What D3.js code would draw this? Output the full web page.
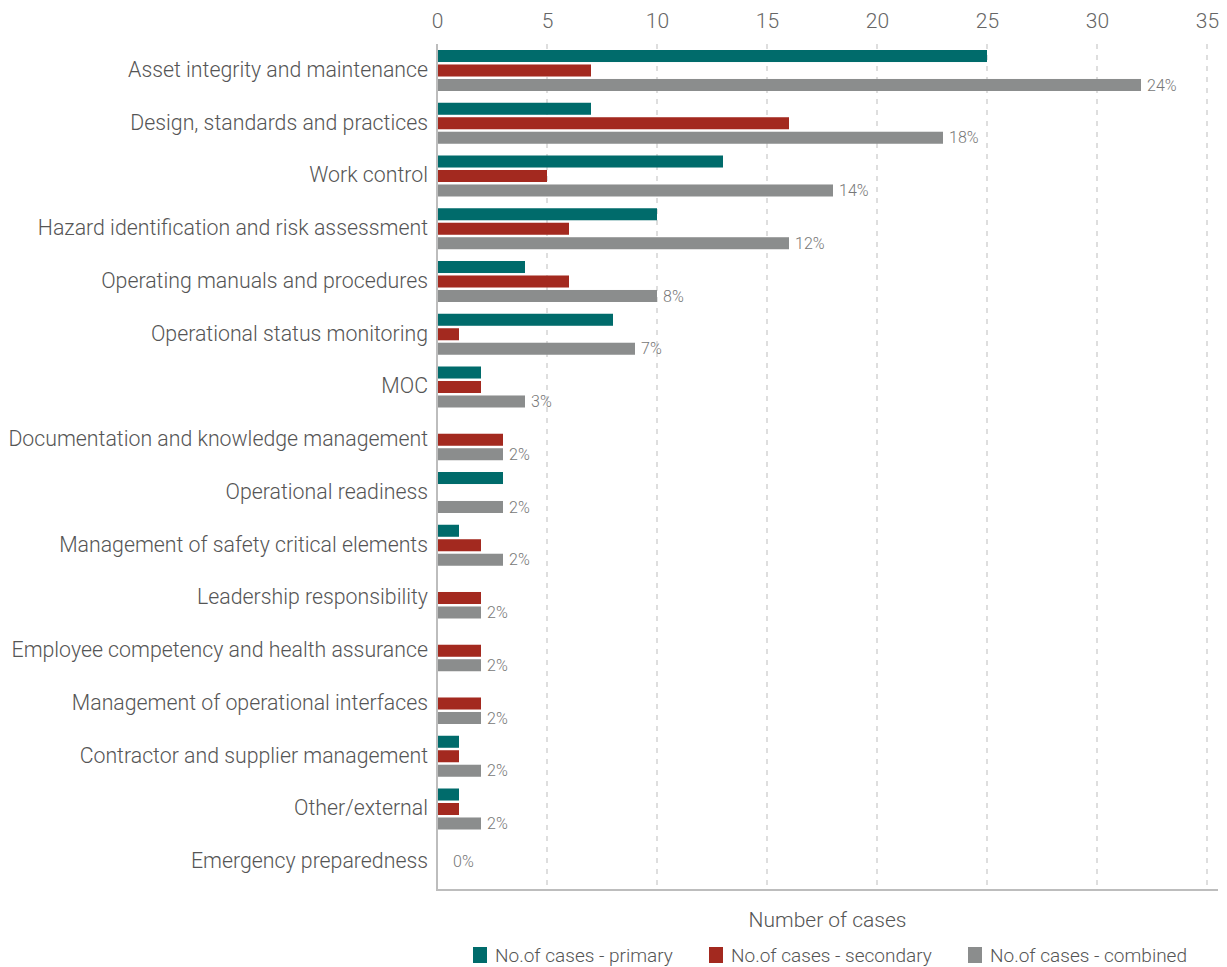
<!DOCTYPE html>
<html>
<head>
<meta charset="utf-8">
<script src="https://cdn.jsdelivr.net/npm/d3@7/dist/d3.min.js"></script>
<style>
  html, body { margin: 0; padding: 0; background: #fff; }
  svg { display: block; font-family: Roboto, "Noto Sans", sans-serif; font-weight: 300; }
</style>
</head>
<body>
<svg id="chart" width="1227" height="967"></svg>
<script>
const categories = [
  "Asset integrity and maintenance",
  "Design, standards and practices",
  "Work control",
  "Hazard identification and risk assessment",
  "Operating manuals and procedures",
  "Operational status monitoring",
  "MOC",
  "Documentation and knowledge management",
  "Operational readiness",
  "Management of safety critical elements",
  "Leadership responsibility",
  "Employee competency and health assurance",
  "Management of operational interfaces",
  "Contractor and supplier management",
  "Other/external",
  "Emergency preparedness"
];
const primary   = [25, 7, 13, 10, 4, 8, 2, 0, 3, 1, 0, 0, 0, 1, 1, 0];
const secondary = [7, 16, 5, 6, 6, 1, 2, 3, 0, 2, 2, 2, 2, 1, 1, 0];
const combined  = [32, 23, 18, 16, 10, 9, 4, 3, 3, 3, 2, 2, 2, 2, 2, 0];
const combinedPct = ["24%", "18%", "14%", "12%", "8%", "7%", "3%", "2%", "2%", "2%", "2%", "2%", "2%", "2%", "2%", "0%"];
const seriesNames = ["No.of cases - primary", "No.of cases - secondary", "No.of cases - combined"];
const seriesColors = ["#006b6b", "#a3291f", "#8b8d8d"];
const xTicks = [0, 5, 10, 15, 20, 25, 30, 35];
const xTitle = "Number of cases";

(function () {
const svg = d3.select("#chart");
const pLeft = 437, pRight = 1218, pTop = 44, pBottom = 888;

const x = d3.scaleLinear().domain([0, 35.5]).range([pLeft, pRight]);
const y0 = d3.scaleBand().domain(categories).range([pTop, pBottom]).padding(0);
const y1 = d3.scaleBand().domain([0, 1, 2]).range([6, 47]).paddingInner(0.17).paddingOuter(0);

// gridlines
svg.append("g").selectAll("line").data(xTicks.filter(t => t > 0)).join("line")
  .attr("x1", d => x(d)).attr("x2", d => x(d))
  .attr("y1", pTop).attr("y2", pBottom)
  .attr("stroke", "#c8c8c8").attr("stroke-width", 1.2)
  .attr("stroke-dasharray", "5,6");

// top axis
const xAxis = d3.axisTop(x).tickValues(xTicks).tickSize(0).tickPadding(0);
const gx = svg.append("g").attr("transform", "translate(0,28)").call(xAxis);
gx.select(".domain").remove();
gx.selectAll("text").attr("font-size", 21).attr("fill", "#666").attr("font-family", "Roboto").attr("font-weight", 300);

// bars
const series = [primary, secondary, combined];
const rows = svg.append("g").selectAll("g").data(categories).join("g")
  .attr("transform", d => `translate(0,${y0(d)})`);
rows.selectAll("rect").data((d, i) => series.map((s, k) => ({k, v: s[i]}))).join("rect")
  .attr("x", x(0))
  .attr("y", d => y1(d.k))
  .attr("width", d => x(d.v) - x(0))
  .attr("height", y1.bandwidth())
  .attr("fill", d => seriesColors[d.k]);

// value labels for combined
rows.append("text")
  .attr("x", (d, i) => combined[i] > 0 ? x(combined[i]) + 6 : x(0) + 16)
  .attr("y", (d, i) => combined[i] > 0 ? y1(2) + y1.bandwidth() / 2 : y0.bandwidth() / 2)
  .attr("dy", "0.35em")
  .attr("font-size", 16).attr("fill", "#777")
  .text((d, i) => combinedPct[i]);

// category labels
svg.append("g").selectAll("text").data(categories).join("text")
  .attr("x", 428)
  .attr("y", d => y0(d) + y0.bandwidth() / 2 - 1)
  .attr("dy", "0.35em")
  .attr("text-anchor", "end")
  .attr("font-size", 21.3).attr("fill", "#555")
  .text(d => d);

// axis lines
svg.append("line").attr("x1", x(0)).attr("x2", x(0)).attr("y1", pTop).attr("y2", pBottom + 2)
  .attr("stroke", "#bdbdbd").attr("stroke-width", 2);
svg.append("line").attr("x1", x(0) - 1).attr("x2", pRight).attr("y1", pBottom + 2).attr("y2", pBottom + 2)
  .attr("stroke", "#bdbdbd").attr("stroke-width", 2);

// x title
svg.append("text").attr("x", (pLeft + pRight) / 2).attr("y", 920).attr("dy", "0.35em")
  .attr("text-anchor", "middle").attr("font-size", 21).attr("fill", "#555").text(xTitle);

// legend
const legendX = [473, 709, 968];
const lg = svg.append("g").selectAll("g").data(seriesNames).join("g")
  .attr("transform", (d, i) => `translate(${legendX[i]},947)`);
lg.append("rect").attr("width", 14).attr("height", 16).attr("fill", (d, i) => seriesColors[i]);
lg.append("text").attr("x", 22).attr("y", 8).attr("dy", "0.35em")
  .attr("font-size", 19).attr("fill", "#555").text(d => d);
})();
</script>
</body>
</html>
